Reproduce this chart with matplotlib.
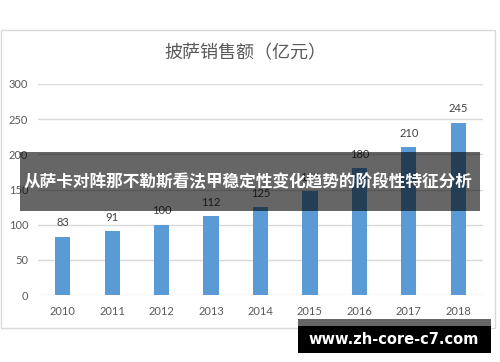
import matplotlib.pyplot as plt
from matplotlib.patches import Rectangle

years = ["2010", "2011", "2012", "2013", "2014", "2015", "2016", "2017", "2018"]
sales = [83, 91, 100, 112, 125, 148, 180, 210, 245]
title = "披萨销售额（亿元）"
banner_text = "从萨卡对阵那不勒斯看法甲稳定性变化趋势的阶段性特征分析"
site_text = "www.zh-core-c7.com"

W, H = 500, 362
cjk = ["Noto Sans CJK SC", "DejaVu Sans"]
num_font = ["Lato", "DejaVu Sans"]

fig = plt.figure(figsize=(W / 100, H / 100), dpi=100)
fig.patch.set_facecolor("white")

# outer chart frame
fig.patches.append(Rectangle((1 / W, 34 / H), 494 / W, 298 / H,
                             transform=fig.transFigure, fill=False,
                             edgecolor="#d9d9d9", linewidth=1, zorder=0.5))

ax = fig.add_axes([38 / W, 67 / H, 445 / W, 211 / H])
x = range(len(years))
bars = ax.bar(x, sales, width=0.31, color="#5b9bd5", zorder=2)

ax.set_xlim(-0.5, len(years) - 0.5)
ax.set_ylim(0, 300)
ax.set_yticks(range(0, 301, 50))
ax.set_xticks(list(x))
ax.set_xticklabels(years)
ax.grid(axis="y", color="#d9d9d9", linewidth=1, zorder=0)
for s in ax.spines.values():
    s.set_visible(False)
ax.tick_params(length=0, colors="#595959", labelsize=8)
ax.tick_params(axis="x", pad=8)
ax.tick_params(axis="y", pad=7)
for lbl in ax.get_xticklabels() + ax.get_yticklabels():
    lbl.set_family(num_font)

for b, v in zip(bars, sales):
    ax.annotate(str(v), (b.get_x() + b.get_width() / 2, v),
                xytext=(0, 10), textcoords="offset points",
                ha="center", va="center", fontsize=8,
                color="#404040", family=num_font)

fig.text(245 / W, (H - 53) / H, title, ha="center", va="center",
         fontsize=13, color="#595959", family=cjk)

# overlay banner
band = Rectangle((20 / W, (H - 211) / H), 460 / W, 59 / H,
                 transform=fig.transFigure, facecolor="black",
                 alpha=0.6, edgecolor="none", zorder=5)
fig.patches.append(band)
t = fig.text(248 / W, (H - 182) / H, banner_text, ha="center", va="center",
             fontsize=12, fontweight="bold", color="white", family=cjk,
             zorder=6)
t.set_clip_path(band)

# site watermark
fig.patches.append(Rectangle((298 / W, (H - 326) / H), 193 / W, 7 / H,
                             transform=fig.transFigure, facecolor="#666666",
                             edgecolor="none", zorder=5))
fig.patches.append(Rectangle((298 / W, (H - 353) / H), 193 / W, 27 / H,
                             transform=fig.transFigure, facecolor="black",
                             edgecolor="none", zorder=5))
fig.text(394 / W, (H - 339) / H, site_text, ha="center", va="center",
         fontsize=10.5, fontweight="bold", color="white", zorder=6)

fig.savefig("out.png", dpi=100)
